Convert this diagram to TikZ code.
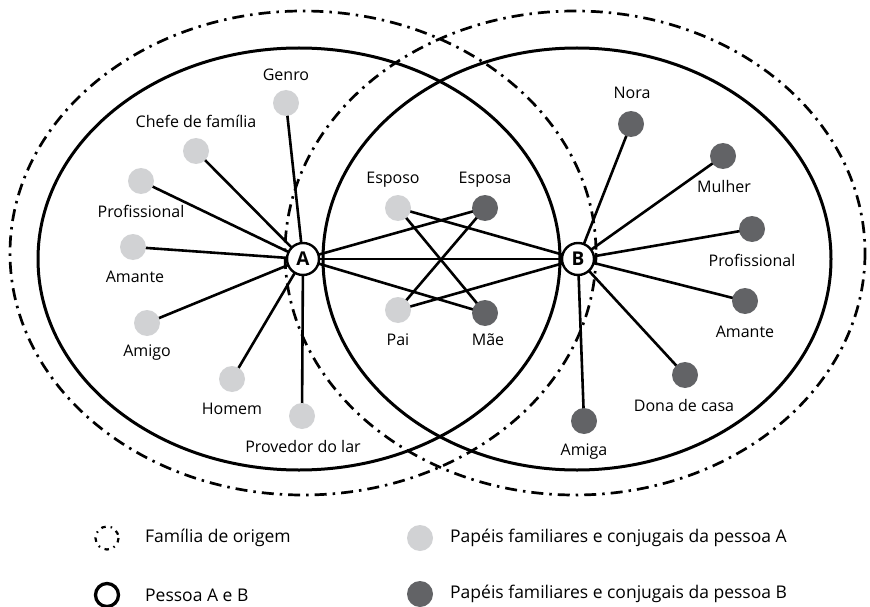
\documentclass[tikz,border=0pt]{standalone}
\usepackage{fontspec}
\setmainfont{Open Sans}
\usetikzlibrary{backgrounds}
\definecolor{roleA}{HTML}{D1D2D4}
\definecolor{roleB}{HTML}{626366}
\begin{document}
\begin{tikzpicture}[x=1pt,y=-1pt,
  lbl/.style={font=\fontsize{16}{19}\selectfont, inner sep=0pt},
  legtext/.style={font=\fontsize{17.5}{20}\selectfont, inner sep=0pt, anchor=west},
  rolea/.style={circle, fill=roleA, minimum size=26pt, inner sep=0pt},
  roleb/.style={circle, fill=roleB, minimum size=26pt, inner sep=0pt},
  person/.style={circle, draw, line width=2.4pt, fill=white, minimum size=32pt, inner sep=0pt, font=\bfseries\fontsize{19}{19}\selectfont},
  origin/.style={line width=2.7pt, dash pattern=on 12pt off 6pt on 2.5pt off 6pt},
  self/.style={line width=3pt},
  link/.style={line width=2.6pt}]
\useasboundingbox (0,0) rectangle (870,607);

% the two persons
\node[person] (A) at (303,259) {A};
\node[person] (B) at (578,259) {B};

% roles of person A
\node[rolea] (genro) at (286,103) {};
\node[rolea] (chefe) at (196,151) {};
\node[rolea] (profA) at (141,181) {};
\node[rolea] (amanteA) at (133,247) {};
\node[rolea] (amigo) at (147,323) {};
\node[rolea] (homem) at (232,379) {};
\node[rolea] (provedor) at (302,416) {};
\node[rolea] (esposo) at (398,208) {};
\node[rolea] (pai) at (398,310) {};

% roles of person B
\node[roleb] (esposa) at (485,208) {};
\node[roleb] (mae) at (485,313) {};
\node[roleb] (nora) at (631,124) {};
\node[roleb] (mulher) at (723,156) {};
\node[roleb] (profB) at (752,229) {};
\node[roleb] (amanteB) at (745,301) {};
\node[roleb] (dona) at (685,375) {};
\node[roleb] (amiga) at (584,421) {};

\begin{scope}[on background layer]
  % family of origin (dash-dot) and the two persons (solid)
  \draw[origin] (303,253) ellipse [x radius=293, y radius=242];
  \draw[origin] (575,253) ellipse [x radius=290, y radius=242];
  \draw[self] (299,259) ellipse [x radius=261, y radius=211];
  \draw[self] (577,259) ellipse [x radius=254, y radius=211];
  % connectors
  \foreach \n in {genro,chefe,profA,amanteA,amigo,homem,provedor,esposa,mae}
    \draw[link] (A.center) -- (\n.center);
  \foreach \n in {nora,mulher,profB,amanteB,dona,amiga,esposo,pai}
    \draw[link] (B.center) -- (\n.center);
  \draw[link] (A) -- (B);
  \draw[link] (esposo.center) -- (mae.center);
  \draw[link] (esposa.center) -- (pai.center);
\end{scope}

% labels
\node[lbl] (tgenro) at (286,75) {Genro};
\node[lbl] (tchefe) at (196,121) {Chefe de família};
\node[lbl] (tprofA) at (141,211) {Profissional};
\node[lbl] (tamanteA) at (135,277) {Amante};
\node[lbl] (tamigo) at (147,353) {Amigo};
\node[lbl] (thomem) at (232,409) {Homem};
\node[lbl] (tprovedor) at (303,446) {Provedor do lar};
\node[lbl] (tesposo) at (393,180) {Esposo};
\node[lbl] (tpai) at (398,340) {Pai};
\node[lbl] (tesposa) at (485,180) {Esposa};
\node[lbl] (tmae) at (488,340) {Mãe};
\node[lbl] (tnora) at (632,93) {Nora};
\node[lbl] (tmulher) at (724,186) {Mulher};
\node[lbl] (tprofB) at (752,260) {Profissional};
\node[lbl] (tamanteB) at (745,332) {Amante};
\node[lbl] (tdona) at (684,405) {Dona de casa};
\node[lbl] (tamiga) at (584,452) {Amiga};

% legend
\draw[line width=2.2pt, dash pattern=on 4.5pt off 5pt on 1.5pt off 5pt] (107,538) circle [radius=11.5];
\node[legtext] (lg1) at (145,538) {Família de origem};
\draw[line width=3.3pt] (107,595) circle [radius=11.5];
\node[legtext] (lg2) at (145,595) {Pessoa A e B};
\node[rolea] (lga) at (420,538) {};
\node[legtext] (lg3) at (450,538) {Papéis familiares e conjugais da pessoa A};
\node[roleb] (lgb) at (420,594) {};
\node[legtext] (lg4) at (450,594) {Papéis familiares e conjugais da pessoa B};
\end{tikzpicture}
\end{document}
